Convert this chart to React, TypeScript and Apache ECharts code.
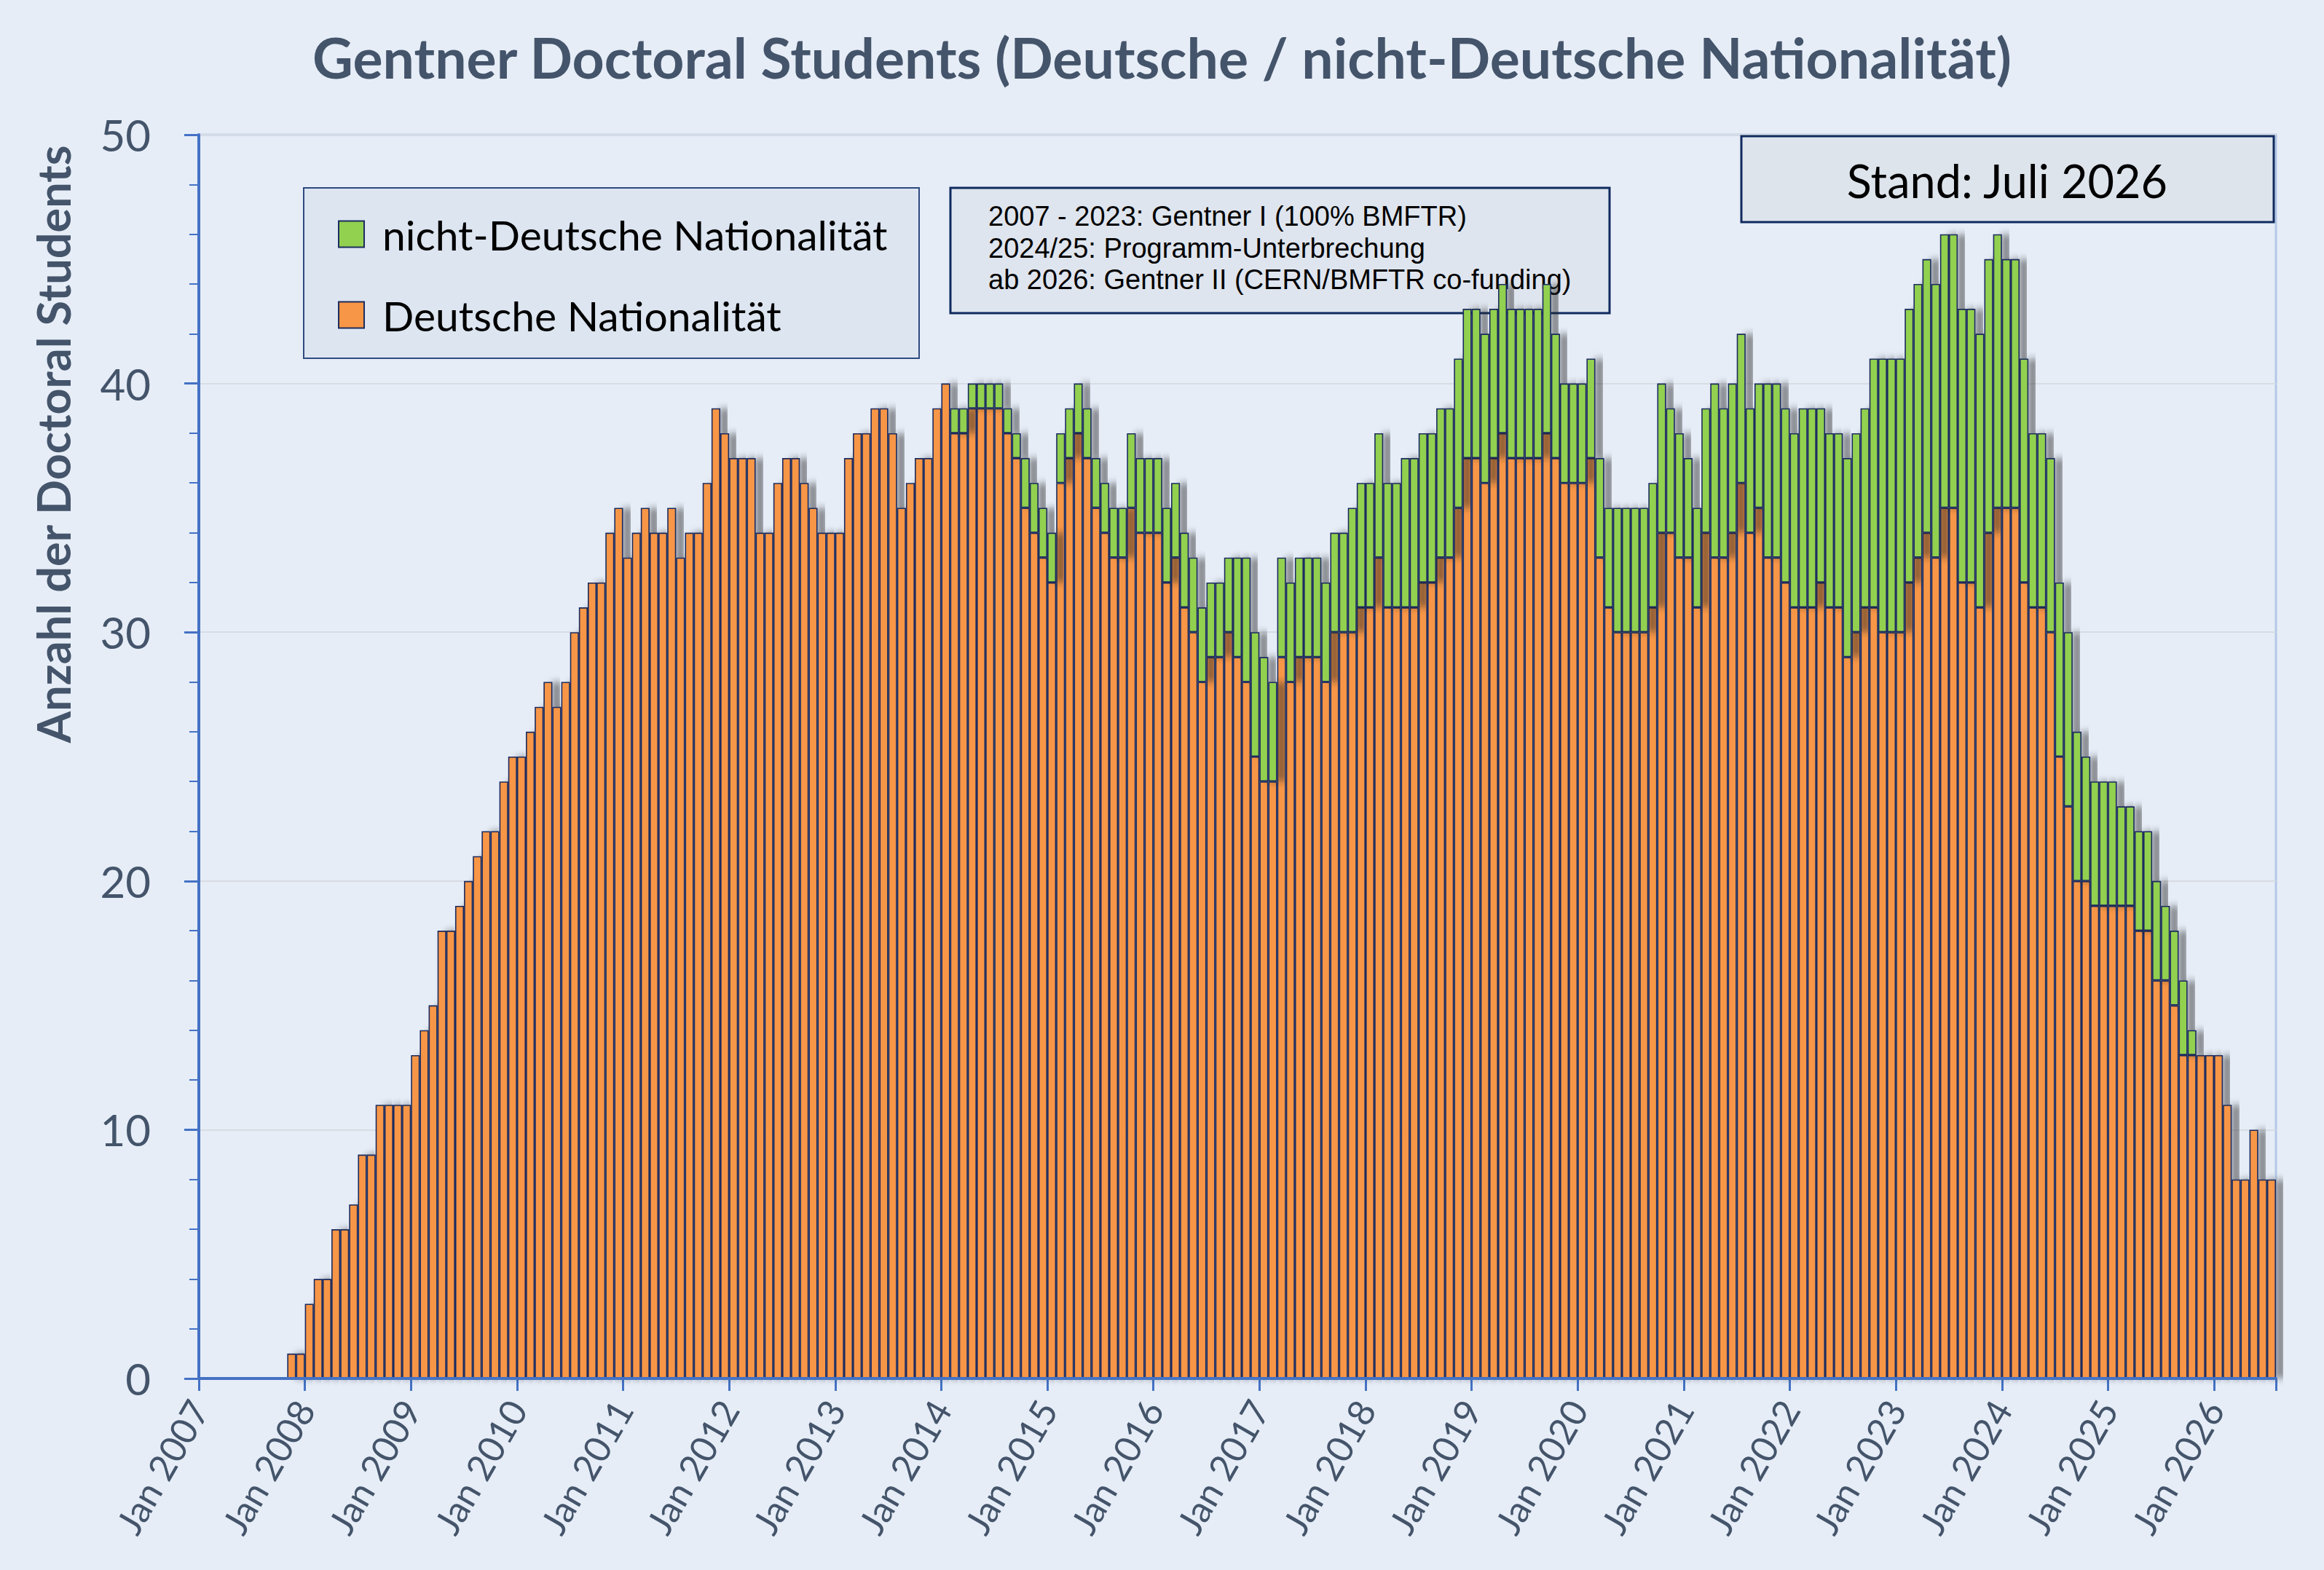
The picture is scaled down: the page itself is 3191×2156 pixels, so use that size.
import React, { useEffect, useRef } from "react";
import * as echarts from "echarts";

const START_YEAR = 2007;
const LAST_MONTH_COUNT = 235; // Jan 2007 .. Jul 2026

// Deutsche Nationalität (orange), monthly Jan 2007 .. Jul 2026
const deutsche: number[] = [
  0, 0, 0, 0, 0, 0, 0, 0, 0, 0, 1, 1, // 2007
  3, 4, 4, 6, 6, 7, 9, 9, 11, 11, 11, 11, // 2008
  13, 14, 15, 18, 18, 19, 20, 21, 22, 22, 24, 25, // 2009
  25, 26, 27, 28, 27, 28, 30, 31, 32, 32, 34, 35, // 2010
  33, 34, 35, 34, 34, 35, 33, 34, 34, 36, 39, 38, // 2011
  37, 37, 37, 34, 34, 36, 37, 37, 36, 35, 34, 34, // 2012
  34, 37, 38, 38, 39, 39, 38, 35, 36, 37, 37, 39, // 2013
  40, 38, 38, 39, 39, 39, 39, 38, 37, 35, 34, 33, // 2014
  32, 36, 37, 38, 37, 35, 34, 33, 33, 35, 34, 34, // 2015
  34, 32, 33, 31, 30, 28, 29, 29, 30, 29, 28, 25, // 2016
  24, 24, 29, 28, 29, 29, 29, 28, 30, 30, 30, 31, // 2017
  31, 33, 31, 31, 31, 31, 32, 32, 33, 33, 35, 37, // 2018
  37, 36, 37, 38, 37, 37, 37, 37, 38, 37, 36, 36, // 2019
  36, 37, 33, 31, 30, 30, 30, 30, 31, 34, 34, 33, // 2020
  33, 31, 34, 33, 33, 34, 36, 34, 35, 33, 33, 32, // 2021
  31, 31, 31, 32, 31, 31, 29, 30, 31, 31, 30, 30, // 2022
  30, 32, 33, 34, 33, 35, 35, 32, 32, 31, 34, 35, // 2023
  35, 35, 32, 31, 31, 30, 25, 23, 20, 20, 19, 19, // 2024
  19, 19, 19, 18, 18, 16, 16, 15, 13, 13, 13, 13, // 2025
  13, 11, 8, 8, 10, 8, 8, // 2026
];

// nicht-Deutsche Nationalität (green), stacked on top
const nichtDeutsche: number[] = [
  0, 0, 0, 0, 0, 0, 0, 0, 0, 0, 0, 0, // 2007
  0, 0, 0, 0, 0, 0, 0, 0, 0, 0, 0, 0, // 2008
  0, 0, 0, 0, 0, 0, 0, 0, 0, 0, 0, 0, // 2009
  0, 0, 0, 0, 0, 0, 0, 0, 0, 0, 0, 0, // 2010
  0, 0, 0, 0, 0, 0, 0, 0, 0, 0, 0, 0, // 2011
  0, 0, 0, 0, 0, 0, 0, 0, 0, 0, 0, 0, // 2012
  0, 0, 0, 0, 0, 0, 0, 0, 0, 0, 0, 0, // 2013
  0, 1, 1, 1, 1, 1, 1, 1, 1, 2, 2, 2, // 2014
  2, 2, 2, 2, 2, 2, 2, 2, 2, 3, 3, 3, // 2015
  3, 3, 3, 3, 3, 3, 3, 3, 3, 4, 5, 5, // 2016
  5, 4, 4, 4, 4, 4, 4, 4, 4, 4, 5, 5, // 2017
  5, 5, 5, 5, 6, 6, 6, 6, 6, 6, 6, 6, // 2018
  6, 6, 6, 6, 6, 6, 6, 6, 6, 5, 4, 4, // 2019
  4, 4, 4, 4, 5, 5, 5, 5, 5, 6, 5, 5, // 2020
  4, 4, 5, 7, 6, 6, 6, 5, 5, 7, 7, 7, // 2021
  7, 8, 8, 7, 7, 7, 8, 8, 8, 10, 11, 11, // 2022
  11, 11, 11, 11, 11, 11, 11, 11, 11, 11, 11, 11, // 2023
  10, 10, 9, 7, 7, 7, 7, 7, 6, 5, 5, 5, // 2024
  5, 4, 4, 4, 4, 4, 3, 3, 3, 1, 0, 0, // 2025
  0, 0, 0, 0, 0, 0, 0, // 2026
];

const MONTH_NAMES = ["Jan", "Feb", "Mar", "Apr", "May", "Jun", "Jul", "Aug", "Sep", "Oct", "Nov", "Dec"];
const categories: string[] = [];
for (let i = 0; i < LAST_MONTH_COUNT; i++) {
  categories.push(`${MONTH_NAMES[i % 12]} ${START_YEAR + Math.floor(i / 12)}`);
}

const TITLE = "Gentner Doctoral Students (Deutsche / nicht-Deutsche Nationalität)";
const Y_NAME = "Anzahl der Doctoral Students";
const NOTE_LINES = [
  "2007 - 2023: Gentner I (100% BMFTR)",
  "2024/25: Programm-Unterbrechung",
  "ab 2026: Gentner II (CERN/BMFTR co-funding)",
];
const STAND = "Stand: Juli 2026";
const NAME_DE = "Deutsche Nationalität";
const NAME_NDE = "nicht-Deutsche Nationalität";

const BG = "#E6EDF7";
const TEXT = "#44546A";
const AXIS = "#4472C4";
const NAVY = "#1B2C5E";
const ORANGE = "#F79646";
const GREEN = "#92D050";

export default function App() {
  const ref = useRef<HTMLDivElement>(null);
  useEffect(() => {
    if (!ref.current) return;
    const chart = echarts.init(ref.current, undefined, { renderer: "svg" });
    const toNull = (v: number) => (v === 0 ? null : v);
    const barStyle = (color: string) => ({
      color,
      borderColor: NAVY,
      borderWidth: 1.6,
      shadowBlur: 10,
      shadowColor: "rgba(40,40,40,0.55)",
      shadowOffsetX: 12,
      shadowOffsetY: 0,
    });
    chart.setOption({
      animation: false,
      backgroundColor: BG,
      textStyle: { fontFamily: "Lato" },
      title: {
        text: TITLE,
        left: "center",
        top: 34,
        textStyle: { fontSize: 77, fontWeight: "bold", color: TEXT, fontFamily: "Lato" },
      },
      grid: {
        left: 273,
        right: 66,
        top: 185,
        bottom: 263,
        show: true,
        backgroundColor: BG,
        borderColor: "#B4C7E7",
        borderWidth: 3,
      },
      legend: {
        orient: "vertical",
        left: 464,
        top: 293,
        z: 10,
        padding: 0,
        itemGap: 54,
        itemWidth: 35,
        itemHeight: 36,
        icon: "rect",
        data: [NAME_NDE, NAME_DE],
        textStyle: {
          fontSize: 57,
          lineHeight: 40,
          color: "#000000",
          fontFamily: "Lato",
          padding: [0, 0, 0, 20],
        },
      },
      xAxis: [
        {
          type: "category",
          data: categories,
          boundaryGap: true,
          axisLine: { show: true, lineStyle: { color: AXIS, width: 4 } },
          axisTick: { show: false },
          axisLabel: { show: false },
          splitLine: { show: false },
          z: 5,
        },
        {
          type: "value",
          position: "bottom",
          min: 0,
          max: LAST_MONTH_COUNT,
          interval: 12,
          axisLine: { show: false },
          axisTick: { show: true, length: 17, lineStyle: { color: AXIS, width: 3 } },
          splitLine: { show: false },
          axisLabel: {
            rotate: 60,
            margin: 34,
            fontSize: 50,
            color: TEXT,
            fontFamily: "Lato",
            formatter: (v: number) => (v % 12 === 0 ? categories[v] ?? `Jan ${START_YEAR + v / 12}` : ""),
          },
        },
      ],
      yAxis: {
        type: "value",
        min: 0,
        max: 50,
        interval: 10,
        axisLine: { show: true, lineStyle: { color: AXIS, width: 4 } },
        axisTick: { show: true, inside: false, length: 20, lineStyle: { color: AXIS, width: 3 } },
        minorTick: { show: true, splitNumber: 5, length: 13, lineStyle: { color: AXIS, width: 2 } },
        splitLine: { show: true, lineStyle: { color: "#D8DCE3", width: 2 } },
        axisLabel: { fontSize: 60, color: TEXT, margin: 66, fontFamily: "Lato" },
      },
      series: [
        {
          name: NAME_DE,
          type: "bar",
          stack: "total",
          xAxisIndex: 0,
          barCategoryGap: "0%",
          z: 2,
          data: deutsche.map(toNull),
          itemStyle: barStyle(ORANGE),
        },
        {
          name: NAME_NDE,
          type: "bar",
          stack: "total",
          xAxisIndex: 0,
          barCategoryGap: "0%",
          z: 2,
          data: nichtDeutsche.map(toNull),
          itemStyle: barStyle(GREEN),
        },
      ],
      graphic: [
        {
          type: "text",
          x: 72,
          y: 610,
          rotation: Math.PI / 2,
          style: {
            text: Y_NAME,
            fontSize: 63,
            fontWeight: "bold",
            fontFamily: "Lato",
            fill: TEXT,
            align: "center",
            verticalAlign: "middle",
          },
        },
        {
          type: "rect",
          z: 1,
          shape: { x: 417, y: 258, width: 845, height: 234 },
          style: { fill: "#DCE5F0", stroke: "#2F4A80", lineWidth: 2 },
        },
        {
          type: "rect",
          z: 1,
          shape: { x: 1305, y: 258, width: 905, height: 172 },
          style: { fill: "#DFE5EE", stroke: "#0F2A5E", lineWidth: 3 },
        },
        ...NOTE_LINES.map((t, i) => ({
          type: "text",
          z: 1,
          x: 1357,
          y: 297 + i * 43.5,
          style: {
            text: t,
            fontSize: 38,
            fontFamily: "Liberation Sans",
            fill: "#000000",
            align: "left",
            verticalAlign: "middle",
          },
        })),
        {
          type: "rect",
          z: 1,
          shape: { x: 2391, y: 187, width: 731, height: 118 },
          style: { fill: "#DEE4EC", stroke: "#0F2A5E", lineWidth: 3 },
        },
        {
          type: "text",
          z: 1,
          x: 2756,
          y: 247,
          style: {
            text: STAND,
            fontSize: 63,
            fontFamily: "Lato",
            fill: "#000000",
            align: "center",
            verticalAlign: "middle",
          },
        },
      ],
    });
    return () => chart.dispose();
  }, []);
  return (
    <div
      ref={ref}
      style={{ position: "absolute", left: 0, top: 0, width: 3191, height: 2156 }}
    />
  );
}
